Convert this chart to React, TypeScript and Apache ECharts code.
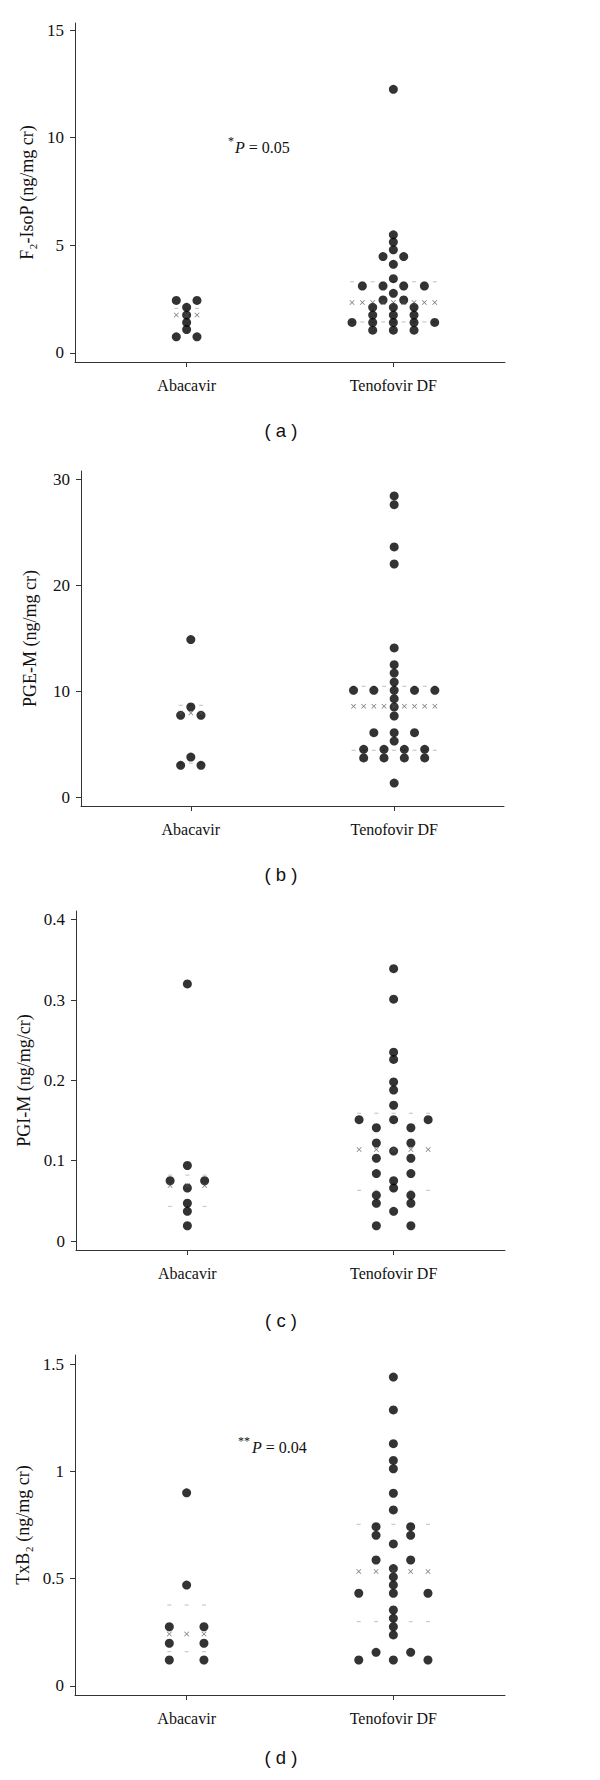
import React, { useEffect, useRef } from "react";
import * as echarts from "echarts";

// ---------- data ----------
const categories = ["Abacavir", "Tenofovir DF"];
const panelLetters = ["( a )", "( b )", "( c )", "( d )"];
const yNames = ["F\u2082-IsoP (ng/mg cr)", "PGE-M (ng/mg cr)", "PGI-M (ng/mg/cr)", "TxB\u2082 (ng/mg cr)"];

// (a) F2-IsoP
const f2IsoPAbacavir = [2.44, 2.44, 2.12, 1.76, 1.42, 1.09, 0.75, 0.75];
const f2IsoPTenofovir = [
  12.25, 5.49, 5.15, 4.79, 4.48, 4.48, 4.12, 3.45, 3.11, 3.11, 3.11, 3.11, 2.77, 2.46, 2.46,
  2.12, 2.12, 2.12, 1.76, 1.76, 1.76, 1.42, 1.42, 1.42, 1.42, 1.42, 1.06, 1.06, 1.06,
];
const f2IsoPMedian = [1.76, 2.34];
const f2IsoPQ1: (number | null)[] = [null, 1.44];
const f2IsoPQ3: (number | null)[] = [2.07, 3.31];
const f2IsoPTicks = [0, 5, 10, 15];

// (b) PGE-M
const pgeMAbacavir = [14.88, 8.51, 7.72, 7.72, 3.78, 3.0, 3.0];
const pgeMTenofovir = [
  28.46, 27.64, 23.64, 22.03, 14.09, 12.51, 11.72, 10.87, 10.09, 10.09, 10.09, 10.09, 10.09,
  9.3, 8.51, 7.66, 6.08, 6.08, 6.08, 5.29, 4.51, 4.51, 4.51, 4.51, 3.69, 3.69, 3.69, 3.69, 1.32,
];
const pgeMMedian = [7.94, 8.57];
const pgeMQ1: (number | null)[] = [3.2, 4.41];
const pgeMQ3: (number | null)[] = [8.67, 10.46];
const pgeMTicks = [0, 10, 20, 30];

// (c) PGI-M
const pgiMAbacavir = [0.32, 0.094, 0.075, 0.075, 0.066, 0.047, 0.037, 0.019];
const pgiMTenofovir = [
  0.339, 0.301, 0.235, 0.226, 0.198, 0.188, 0.169, 0.151, 0.151, 0.151, 0.141, 0.141, 0.122,
  0.122, 0.112, 0.103, 0.103, 0.084, 0.084, 0.075, 0.066, 0.057, 0.057, 0.047, 0.047, 0.037,
  0.019, 0.019,
];
const pgiMMedian = [0.069, 0.114];
const pgiMQ1: (number | null)[] = [0.043, 0.063];
const pgiMQ3: (number | null)[] = [0.082, 0.159];
const pgiMTicks = [0, 0.1, 0.2, 0.3, 0.4];

// (d) TxB2
const txB2Abacavir = [0.9, 0.47, 0.276, 0.276, 0.199, 0.199, 0.121, 0.121];
const txB2Tenofovir = [
  1.439, 1.286, 1.129, 1.051, 1.012, 0.898, 0.82, 0.742, 0.742, 0.702, 0.702, 0.662, 0.587,
  0.587, 0.547, 0.508, 0.471, 0.432, 0.432, 0.432, 0.354, 0.315, 0.276, 0.238, 0.157, 0.157,
  0.121, 0.121, 0.121,
];
const txB2Median = [0.242, 0.533];
const txB2Q1: (number | null)[] = [0.16, 0.3];
const txB2Q3: (number | null)[] = [0.377, 0.753];
const txB2Ticks = [0, 0.5, 1, 1.5];

// ---------- layout / style ----------
const SERIF = "'Liberation Serif', 'Times New Roman', serif";
const SANS = "'Liberation Sans', Arial, sans-serif";
const X_SYMBOL = "path://M1,0L5,4L9,0L10,1L6,5L10,9L9,10L5,6L1,10L0,9L4,5L0,1Z";

const panels = [
  {
    aba: f2IsoPAbacavir, teno: f2IsoPTenofovir, median: f2IsoPMedian, q1: f2IsoPQ1, q3: f2IsoPQ3,
    ticks: f2IsoPTicks, yMin: -0.42, yMax: 15.33, unit: 0.05,
    grid: { left: 75, top: 23, width: 430, height: 339 }, nameGap: 35, letterY: 430,
  },
  {
    aba: pgeMAbacavir, teno: pgeMTenofovir, median: pgeMMedian, q1: pgeMQ1, q3: pgeMQ3,
    ticks: pgeMTicks, yMin: -0.85, yMax: 30.82, unit: 0.05,
    grid: { left: 81, top: 471, width: 423, height: 335 }, nameGap: 42, letterY: 874,
  },
  {
    aba: pgiMAbacavir, teno: pgiMTenofovir, median: pgiMMedian, q1: pgiMQ1, q3: pgiMQ3,
    ticks: pgiMTicks, yMin: -0.0112, yMax: 0.4108, unit: 0.0837,
    grid: { left: 76, top: 911, width: 429, height: 339 }, nameGap: 36, letterY: 1320,
  },
  {
    aba: txB2Abacavir, teno: txB2Tenofovir, median: txB2Median, q1: txB2Q1, q3: txB2Q3,
    ticks: txB2Ticks, yMin: -0.042, yMax: 1.542, unit: 0.0837,
    grid: { left: 75, top: 1355, width: 430, height: 340 }, nameGap: 35, letterY: 1757,
  },
];

// spread identical values symmetrically (dot plot layout)
function dotPlot(values: number[], cat: number, unit: number) {
  const counts = new Map<number, number>();
  values.forEach((v) => counts.set(v, (counts.get(v) || 0) + 1));
  const used = new Map<number, number>();
  return values.map((v) => {
    const n = counts.get(v) as number;
    const i = used.get(v) || 0;
    used.set(v, i + 1);
    return [cat + (2 * i - (n - 1)) * unit, v];
  });
}
function maxRow(values: number[]) {
  const counts = new Map<number, number>();
  values.forEach((v) => counts.set(v, (counts.get(v) || 0) + 1));
  let m = 1;
  counts.forEach((c) => (m = Math.max(m, c)));
  return m - 1;
}
function rowMarks(level: number | null, cat: number, k: number, unit: number) {
  if (level === null) return [];
  const out: number[][] = [];
  for (let j = -k; j <= k; j++) out.push([cat + j * unit, level]);
  return out;
}

function buildOption() {
  const grid: any[] = [];
  const xAxis: any[] = [];
  const yAxis: any[] = [];
  const series: any[] = [];
  const axisLine = { show: true, onZero: false, lineStyle: { color: "#333", width: 1 } };
  panels.forEach((p, idx) => {
    grid.push({ ...p.grid });
    xAxis.push({
      type: "value", gridIndex: idx, min: -0.54, max: 1.54,
      axisLine, splitLine: { show: false },
      axisTick: { show: true, length: 5, customValues: [0, 1], lineStyle: { color: "#333" } },
      axisLabel: {
        customValues: [0, 1], margin: 15, color: "#111", fontFamily: SERIF, fontSize: 16,
        formatter: (v: number) => categories[Math.round(v)],
      },
    });
    yAxis.push({
      type: "value", gridIndex: idx, min: p.yMin, max: p.yMax,
      name: yNames[idx], nameLocation: "middle", nameGap: p.nameGap,
      nameTextStyle: { color: "#111", fontFamily: SERIF, fontSize: 18 },
      axisLine, splitLine: { show: false },
      axisTick: { show: true, length: 5, customValues: p.ticks, lineStyle: { color: "#333" } },
      axisLabel: { customValues: p.ticks, margin: 11, color: "#111", fontFamily: SERIF, fontSize: 17 },
    });
    const groups = [p.aba, p.teno];
    const dashData: number[][] = [];
    const medData: number[][] = [];
    const dotData: number[][] = [];
    groups.forEach((vals, g) => {
      const k = maxRow(vals);
      dashData.push(...rowMarks(p.q1[g], g, k, p.unit), ...rowMarks(p.q3[g], g, k, p.unit));
      medData.push(...rowMarks(p.median[g], g, k, p.unit));
      dotData.push(...dotPlot(vals, g, p.unit));
    });
    series.push({
      type: "scatter", xAxisIndex: idx, yAxisIndex: idx, data: dashData,
      symbol: "rect", symbolSize: [4, 1.2], itemStyle: { color: "#bdbdbd" }, z: 1, silent: true,
    });
    series.push({
      type: "scatter", xAxisIndex: idx, yAxisIndex: idx, data: dotData,
      symbol: "circle", symbolSize: 9, itemStyle: { color: "#000" }, z: 2, silent: true,
    });
    series.push({
      type: "scatter", xAxisIndex: idx, yAxisIndex: idx, data: medData,
      symbol: X_SYMBOL, symbolSize: 5, itemStyle: { color: "#555" }, z: 3, silent: true,
    });
  });

  const graphic: any[] = [];
  panels.forEach((p, idx) => {
    graphic.push({
      type: "text", x: 281, y: p.letterY,
      style: { text: panelLetters[idx], fontFamily: SANS, fontSize: 18.5, fill: "#111", align: "center", verticalAlign: "middle" },
    });
  });
  // p-value annotations
  graphic.push(
    { type: "text", x: 228, y: 141, style: { text: "*", fontFamily: SERIF, fontSize: 12, fill: "#111", verticalAlign: "middle" } },
    {
      type: "text", x: 235, y: 147,
      style: {
        text: "{i|P} = 0.05", fontFamily: SERIF, fontSize: 16, fill: "#111", verticalAlign: "middle",
        rich: { i: { fontStyle: "italic", fontFamily: SERIF, fontSize: 16, fill: "#111" } },
      },
    },
    { type: "text", x: 238, y: 1441, style: { text: "**", fontFamily: SERIF, fontSize: 12, fill: "#111", verticalAlign: "middle" } },
    {
      type: "text", x: 252, y: 1447,
      style: {
        text: "{i|P} = 0.04", fontFamily: SERIF, fontSize: 16, fill: "#111", verticalAlign: "middle",
        rich: { i: { fontStyle: "italic", fontFamily: SERIF, fontSize: 16, fill: "#111" } },
      },
    }
  );

  return { animation: false, backgroundColor: "#fff", grid, xAxis, yAxis, series, graphic };
}

export default function App() {
  const ref = useRef<HTMLDivElement>(null);
  useEffect(() => {
    if (!ref.current) return;
    const chart = echarts.init(ref.current, undefined, { renderer: "svg" });
    chart.setOption(buildOption() as any);
    return () => chart.dispose();
  }, []);
  return (
    <div
      ref={ref}
      style={{ position: "absolute", left: 0, top: 0, width: 600, height: 1780, background: "#fff" }}
    />
  );
}
